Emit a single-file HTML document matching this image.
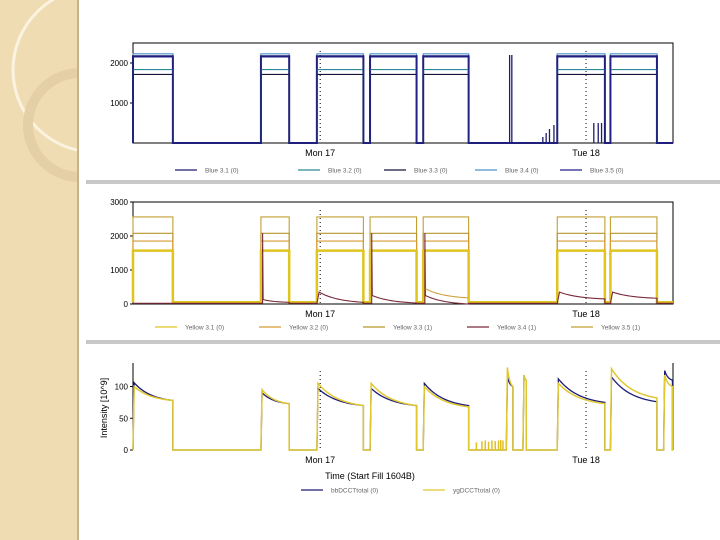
<!DOCTYPE html>
<html><head><meta charset="utf-8">
<style>
html,body{margin:0;padding:0;background:#fff;}
body{width:720px;height:540px;position:relative;overflow:hidden;font-family:"Liberation Sans",sans-serif;}
#strip{position:absolute;left:0;top:0;width:77px;height:540px;background:#efdcb2;border-right:2px solid #c9b287;}
.sep{position:absolute;left:86px;width:634px;height:4px;background:#c8c8c8;}
svg{position:absolute;left:0;top:0;}
text{font-family:"Liberation Sans",sans-serif;}
</style></head><body>
<div id="strip">
<svg width="77" height="540">
<circle cx="95" cy="70" r="82" fill="none" stroke="#fbf3e0" stroke-width="3"/>
<circle cx="80" cy="125" r="52" fill="none" stroke="#e4cfa6" stroke-width="10"/>
</svg></div>
<div class="sep" style="top:180px"></div>
<div class="sep" style="top:340px"></div>
<svg id="chart" width="720" height="540"></svg>
<script>
// shared fill intervals (hours from plot start)
const fillStart = [0, 11.55, 16.6, 21.4, 26.2, 33.7, 35.2, 38.3, 43.1, 47.9];
const fillEnd   = [3.6, 14.1, 20.8, 25.6, 30.3, 34.3, 35.5, 42.6, 47.3, 48.7];
const dayTicks = [16.9, 40.9];
const dayLabels = ["Mon 17", "Tue 18"];
// top panel
const blueNames = ["Blue 3.1 (0)", "Blue 3.2 (0)", "Blue 3.3 (0)", "Blue 3.4 (0)", "Blue 3.5 (0)"];
const blueLevels = [2170, 1836, 1713, 2230, 2150];
const blueColors = ["#1c1c70", "#2c8a98", "#14143c", "#4a92cc", "#22228a"];
const blueTicks = [1000, 2000];
// middle panel
const yelNames = ["Yellow 3.1 (0)", "Yellow 3.2 (0)", "Yellow 3.3 (1)", "Yellow 3.4 (1)", "Yellow 3.5 (1)"];
const yelLevels = [1570, 1850, 2080, 0, 2560];
const yelColors = ["#e0c420", "#d89a30", "#b8962c", "#7a2a3a", "#c0a030"];
const yelTicks = [0, 1000, 2000, 3000];
const redPeak  = [0, 2080, 0, 2080, 2080, 0, 0, 0, 0, 0];
const redStart = [20, 130, 350, 250, 250, 0, 0, 350, 350, 350];
const redEnd   = [20, 50, 50, 30, 0, 0, 0, 150, 170, 280];
const tanStart = [0, 0, 0, 0, 450, 0, 0, 0, 0, 0];
const tanEnd   = [0, 0, 0, 0, 180, 0, 0, 0, 0, 0];
// bottom panel
const bbStart = [106, 90, 97, 97, 105, 115, 118, 112, 115, 125];
const bbEnd   = [78, 73, 70, 70, 70, 100, 110, 75, 76, 110];
const ygStart = [100, 95, 105, 105, 100, 130, 118, 105, 128, 118];
const ygEnd   = [78, 73, 70, 70, 68, 100, 110, 73, 82, 100];
const noiseT = [31.0, 31.5, 31.8, 32.1, 32.4, 32.7, 33.0, 33.2, 33.4];
const noiseV = [12, 14, 15, 13, 15, 14, 15, 16, 15];
const intTicks = [0, 50, 100];

const NS = "http://www.w3.org/2000/svg";
const svg = document.getElementById("chart");
const X0 = 133, X1 = 673, TMAX = 48.75;
function xs(t){ return X0 + t * (X1 - X0) / TMAX; }
function mk(tag, attrs, parent){ const e = document.createElementNS(NS, tag); for (const k in attrs) e.setAttribute(k, attrs[k]); (parent || svg).appendChild(e); return e; }
function decay(s, e, u){ return e + (s - e) * (Math.exp(-2.2 * u) - Math.exp(-2.2)) / (1 - Math.exp(-2.2)); }

function axes(g, top, bot, ys, ticks, tickLbl, boxed){
  if (boxed) { const r = mk("rect", {x: X0, y: top, width: X1 - X0, height: bot - top, fill: "none", stroke: "#000", "stroke-width": 1}, g);   }
  else { mk("line", {x1: X0, y1: top, x2: X0, y2: bot, stroke: "#000"}, g); mk("line", {x1: X1, y1: top, x2: X1, y2: bot, stroke: "#000"}, g); }
  ticks.forEach((v, i) => {
    mk("line", {x1: X0 - 3, x2: X0, y1: ys(v), y2: ys(v), stroke: "#000"}, g);
    const t = mk("text", {x: X0 - 5, y: ys(v) + 3, "font-size": 8, "text-anchor": "end"}, g);
    t.textContent = tickLbl[i];
    
    
  });
  dayTicks.forEach((d, i) => {
    mk("line", {x1: xs(d), x2: xs(d), y1: top + 8, y2: bot, stroke: "#000", "stroke-dasharray": "1,3"}, g);
    const t = mk("text", {x: xs(d), y: bot + 13, "font-size": 9, "text-anchor": "middle"}, g);
    t.textContent = dayLabels[i];
    
    
  });
}
function legend(g, y, names, colors, xpos){
  names.forEach((n, i) => {
    const gg = mk("g", {}, g);
    
    
    const x = xpos[i];
    mk("line", {x1: x, x2: x + 22, y1: y, y2: y, stroke: colors[i], "stroke-width": 1.3}, gg);
    const t = mk("text", {x: x + 30, y: y + 2.5, "font-size": 6.5, fill: "#666"}, gg);
    t.textContent = n;
  });
}
function stepPath(level, base, ys){
  let d = "M" + xs(0) + "," + ys(base);
  fillStart.forEach((s, i) => {
    if (fillEnd[i] - s < 1) return;
    d += "L" + xs(s) + "," + ys(base) + "L" + xs(s) + "," + ys(level) + "L" + xs(fillEnd[i]) + "," + ys(level) + "L" + xs(fillEnd[i]) + "," + ys(base);
  });
  return d + "L" + xs(TMAX) + "," + ys(base);
}

// ---- top panel
{
  const g = mk("g", {});  
  const ys = v => 143 - v * 0.04;
  axes(g, 43, 143, ys, blueTicks, ["1000", "2000"], true);
  [3, 0, 1, 2, 4].forEach(i => {
    const p = mk("path", {d: stepPath(blueLevels[i], 0, ys), fill: "none", stroke: blueColors[i], "stroke-width": i === 0 ? 2 : 1.1}, g);
    
    
  });
  const spikeT = [34.0, 34.2, 37.0, 37.3, 37.6, 38.0, 41.6, 42.0, 42.3, 42.6];
  const spikeV = [2200, 2200, 150, 250, 350, 450, 500, 500, 500, 500];
  spikeT.forEach((t, i) => { const l = mk("line", {x1: xs(t), x2: xs(t), y1: ys(0), y2: ys(spikeV[i]), stroke: "#1c1c70", "stroke-width": 1.3}, g);   });
  legend(g, 170, blueNames, blueColors, [175, 298, 384, 475, 560]);
}
// ---- middle panel
{
  const g = mk("g", {});  
  const ys = v => 304 - v * 0.034;
  axes(g, 202, 304, ys, yelTicks, ["0", "1000", "2000", "3000"], true);
  [4, 2, 1, 0].forEach(i => {
    const p = mk("path", {d: stepPath(yelLevels[i], 50, ys), fill: "none", stroke: yelColors[i], "stroke-width": i === 0 ? 2.5 : 1.1}, g);
    
    
  });
  let d = "M" + xs(0) + "," + ys(20);
  fillStart.forEach((s, i) => {
    const e = fillEnd[i]; if (e - s < 1) return;
    d += "L" + xs(s) + "," + ys(20);
    if (redPeak[i]) d += "L" + xs(s + 0.15) + "," + ys(20) + "L" + xs(s + 0.15) + "," + ys(redPeak[i]);
    for (let k = 0; k <= 20; k++) { const t = s + 0.2 + (e - s - 0.2) * k / 20; d += "L" + xs(t) + "," + ys(decay(redStart[i], redEnd[i], k / 20)); }
    d += "L" + xs(e) + "," + ys(20);
  });
  d += "L" + xs(TMAX) + "," + ys(20);
  const rp = mk("path", {d: d, fill: "none", stroke: yelColors[3], "stroke-width": 1.1}, g);
  
  
  fillStart.forEach((s, i) => {
    if (!tanStart[i]) return;
    let dd = "";
    for (let k = 0; k <= 20; k++) { const t = s + 0.2 + (fillEnd[i] - s - 0.2) * k / 20; dd += (k ? "L" : "M") + xs(t) + "," + ys(decay(tanStart[i], tanEnd[i], k / 20)); }
    const tp = mk("path", {d: dd, fill: "none", stroke: "#d0a040", "stroke-width": 1.1}, g);
    
    
  });
  legend(g, 327, yelNames, yelColors, [155, 259, 363, 467, 571]);
}
// ---- bottom panel
{
  const g = mk("g", {});  
  const ys = v => 450 - v * 0.635;
  axes(g, 363, 450, ys, intTicks, ["0", "50", "100"], false);
  function curve(sa, ea, col, w, name){
    let d = "M" + xs(0) + "," + ys(0);
    fillStart.forEach((s, i) => {
      const e = fillEnd[i];
      d += "L" + xs(s) + "," + ys(0);
      for (let k = 0; k <= 20; k++) { const t = s + 0.1 + (e - s - 0.1) * k / 20; d += "L" + xs(t) + "," + ys(decay(sa[i], ea[i], k / 20)); }
      d += "L" + xs(e) + "," + ys(0);
    });
    d += "L" + xs(TMAX) + "," + ys(0);
    const p = mk("path", {d: d, fill: "none", stroke: col, "stroke-width": w}, g);
    
    
  }
  curve(bbStart, bbEnd, "#1c1c78", 1.3, "series-bbdcct");
  curve(ygStart, ygEnd, "#e0c830", 1.5, "series-ygdcct");
  noiseT.forEach((t, i) => { const l = mk("line", {x1: xs(t), x2: xs(t), y1: ys(0), y2: ys(noiseV[i]), stroke: "#e0c020", "stroke-width": 1.5}, g);   });
  const yt = mk("text", {x: 107, y: 408, "font-size": 9, "text-anchor": "middle", transform: "rotate(-90 107 408)"}, g);
  yt.textContent = "Intensity [10^9]";
  
  
  const xt = mk("text", {x: 370, y: 479, "font-size": 9, "text-anchor": "middle"}, g);
  xt.textContent = "Time (Start Fill 1604B)";
  
  
  legend(g, 490, ["bbDCCTtotal (0)", "ygDCCTtotal (0)"], ["#1c1c78", "#e0c830"], [301, 423]);
}
</script>
</body></html>
